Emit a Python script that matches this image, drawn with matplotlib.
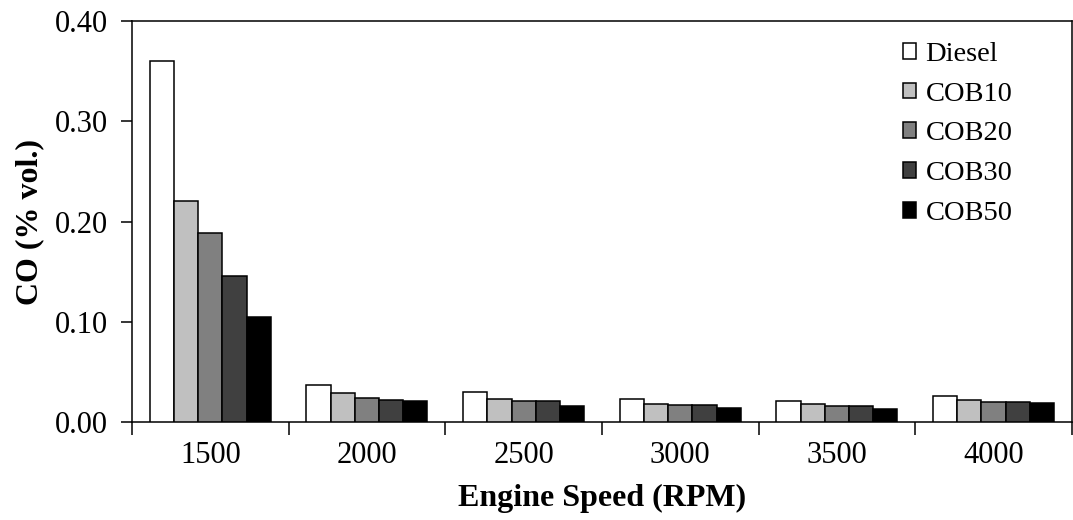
import matplotlib
matplotlib.use("Agg")
import matplotlib.pyplot as plt
import numpy as np
from matplotlib.ticker import FixedLocator, FormatStrFormatter

plt.rcParams['font.family'] = ['Liberation Serif', 'DejaVu Serif']

speeds = ["1500", "2000", "2500", "3000", "3500", "4000"]
fuels = ["Diesel", "COB10", "COB20", "COB30", "COB50"]
diesel = [0.360, 0.037, 0.030, 0.023, 0.021, 0.026]
cob10 = [0.220, 0.029, 0.023, 0.018, 0.018, 0.022]
cob20 = [0.189, 0.024, 0.021, 0.017, 0.016, 0.020]
cob30 = [0.146, 0.022, 0.021, 0.017, 0.016, 0.020]
cob50 = [0.105, 0.021, 0.016, 0.014, 0.013, 0.019]
colors = ["#FFFFFF", "#C0C0C0", "#808080", "#404040", "#000000"]

series = [diesel, cob10, cob20, cob30, cob50]

fig = plt.figure(figsize=(10.73, 5.20), dpi=100)
ax = fig.add_axes([0.123, 0.1885, 0.876, 0.771])

x = np.arange(len(speeds))
bw = 0.1545
for i, (vals, name, col) in enumerate(zip(series, fuels, colors)):
    offs = (i - 2) * bw
    ax.bar(x + offs, vals, width=bw, color=col, edgecolor="black",
           linewidth=1.1, label=name, zorder=3)

ax.set_xlim(-0.5, len(speeds) - 0.5)
ax.set_ylim(0, 0.40)
ax.set_yticks(np.arange(0, 0.41, 0.10))
ax.yaxis.set_major_formatter(FormatStrFormatter('%.2f'))

# category boundaries carry the tick marks, centres carry the labels
ax.xaxis.set_major_locator(FixedLocator(np.arange(-0.5, len(speeds), 1.0)))
ax.xaxis.set_major_formatter(plt.NullFormatter())
ax.xaxis.set_minor_locator(FixedLocator(x))
ax.set_xticklabels(speeds, minor=True)
ax.tick_params(axis='x', which='major', direction='out', length=9, width=1.1)
ax.tick_params(axis='x', which='minor', length=0, pad=14, labelsize=22)
ax.tick_params(axis='y', direction='out', length=8, width=1.1, labelsize=22, pad=9)

for s in ax.spines.values():
    s.set_linewidth(1.1)

ax.set_xlabel("Engine Speed (RPM)", fontsize=23, fontweight='bold', labelpad=10)
ax.set_ylabel("CO (% vol.)", fontsize=23, fontweight='bold', labelpad=8)

leg = ax.legend(loc='upper right', bbox_to_anchor=(0.958, 0.998), frameon=False,
                fontsize=20.5, handlelength=0.48, handleheight=0.48,
                handletextpad=0.32, labelspacing=0.52, borderaxespad=0.3)

fig.savefig("out.png", dpi=100)
